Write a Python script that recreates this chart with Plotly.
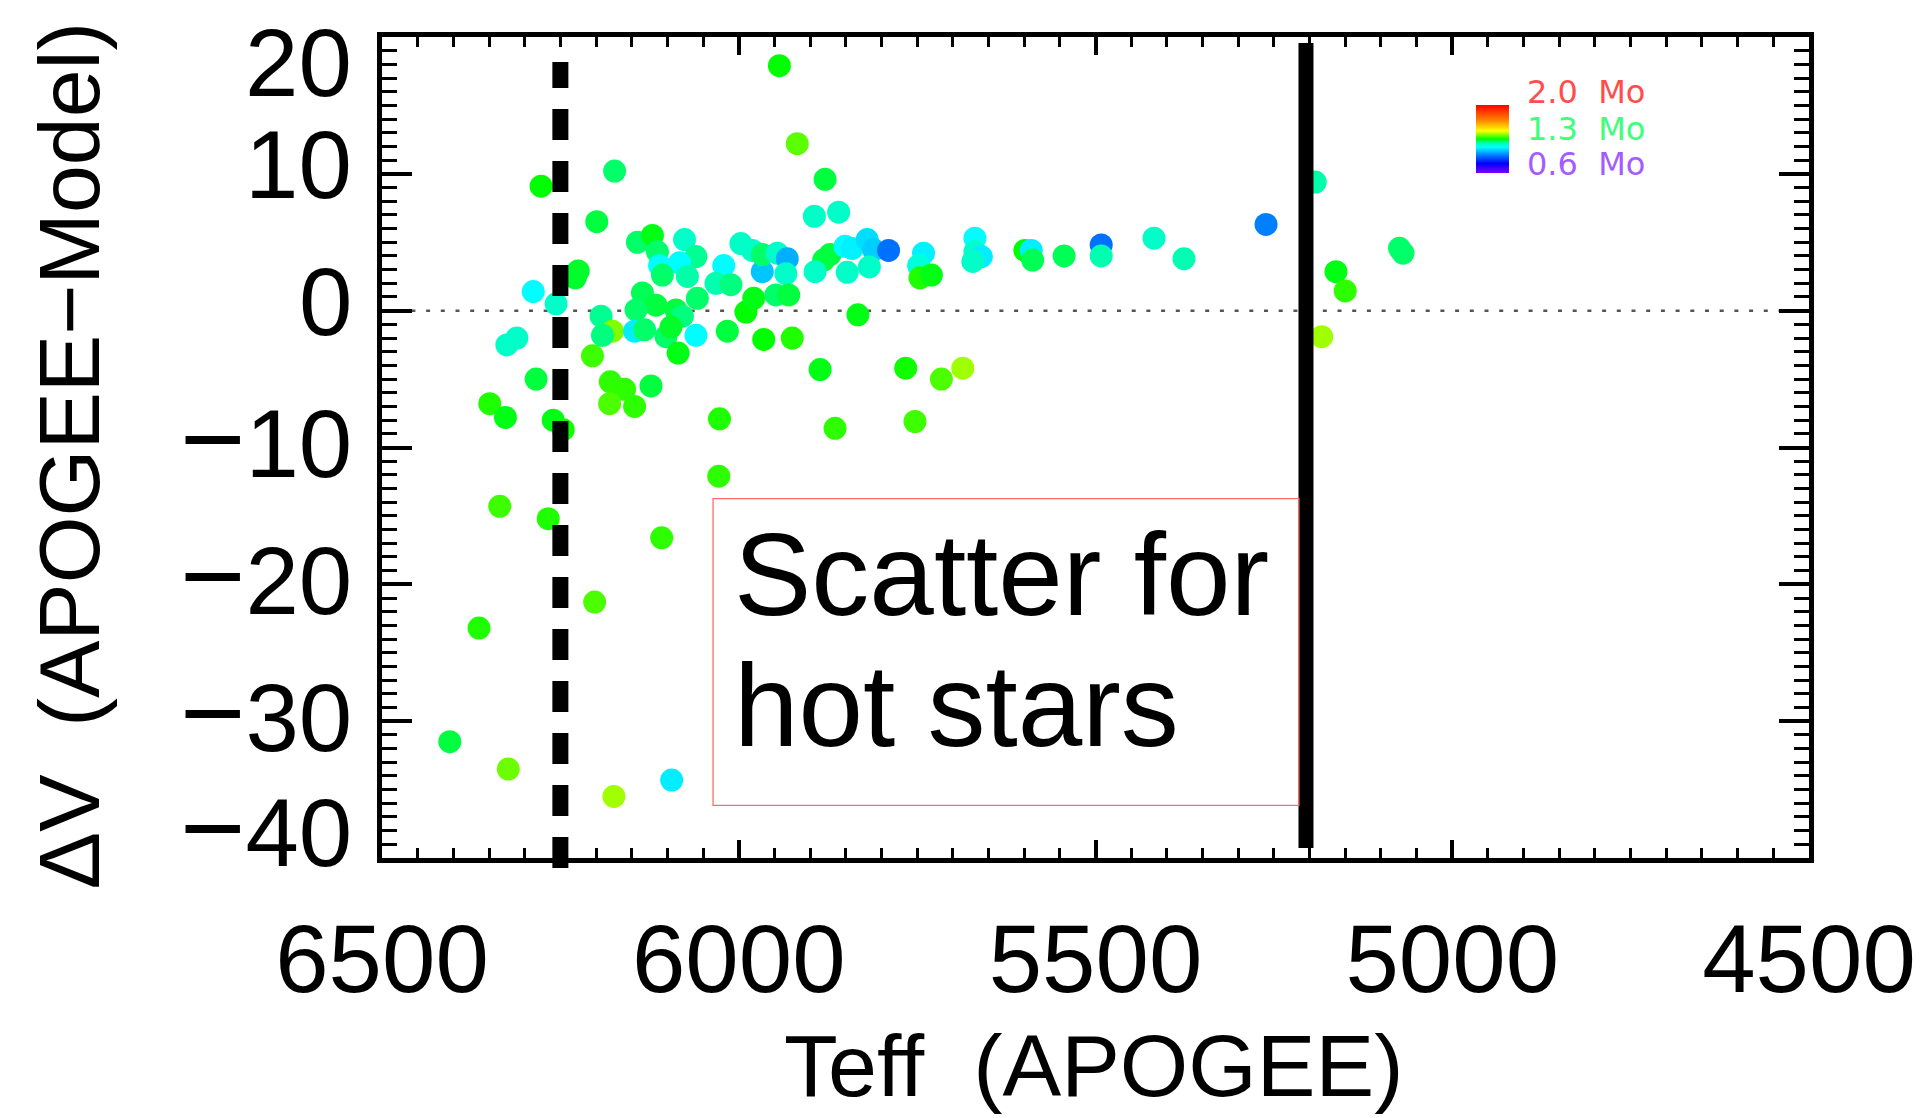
import plotly.graph_objects as go

# ---- data ----
teff = [5943, 5918, 5879, 5894, 5860, 6174, 6277, 6199, 6225, 6229,
        6288, 6256, 6311, 6325, 6284, 6349, 6327, 6260, 6246,
        6142, 6121, 6114, 6076, 6060, 6111, 6083, 6107, 6072, 6021,
        5997, 5981, 6032, 6011, 5967, 5967, 5946, 5932, 5934,
        5881, 5872, 5893, 5851, 5848,
        6135, 6116, 6144, 6193, 6177, 6191, 6146, 6132, 6088, 6079,
        6058, 6102, 6085, 6060, 6095, 6016, 5990, 5979, 5948, 5930,
        5965, 5925, 5886, 6205, 6180, 6160, 6123, 6181, 6146, 6027, 5865,
        5841, 5820, 5811, 5790, 5817, 5833, 5741, 5748, 5746, 5730,
        5669, 5669, 5660, 5672, 5599, 5590, 5588, 5544, 5492, 5492,
        5766, 5716, 5686, 5753,
        5418, 5376, 5261, 5192, 5183, 5163, 5150, 5074, 5069,
        6028, 6335, 6267, 6108, 6202, 6364, 6405, 6323, 6175, 6094]
dv = [17.9, 12.2, 9.6, 6.9, 7.2, 10.2, 9.1, 6.5, 2.9, 2.4,
      1.4, 0.5, -2.0, -2.5, -5.0, -6.8, -7.8, -8.0, -8.7,
      5.0, 5.5, 4.3, 5.2, 3.95, 3.3, 3.5, 2.6, 2.5, 3.3,
      4.9, 4.4, 2.0, 1.9, 2.85, 4.1, 4.2, 3.8, 2.7,
      3.7, 4.1, 2.85, 4.7, 2.8,
      1.3, 0.4, 0.05, -0.4, -1.5, -1.8, -1.5, -1.4, 0.05, -0.4,
      0.9, -1.9, -3.1, -1.8, -1.2, -1.5, -0.1, 0.9, 1.15, 1.15,
      -2.1, -2.0, -4.3, -3.3, -5.2, -5.75, -5.5, -6.8, -7.0, -7.9, -8.6,
      4.55, 5.2, 4.45, 4.4, 3.2, -0.3, 4.2, 3.3, 2.4, 2.6,
      5.3, 4.3, 3.95, 3.6, 4.4, 4.4, 3.7, 4.0, 4.8, 4.0,
      -4.2, -5.0, -4.2, -8.1,
      5.3, 3.8, 6.3, 9.4, -1.9, 2.85, 1.44, 4.56, 4.2,
      -12.1, -14.3, -15.2, -16.6, -21.3, -23.2, -31.5, -33.5, -35.5, -34.3]
mass = [1.30, 1.36, 1.27, 1.19, 1.19, 1.25, 1.30, 1.27, 1.28, 1.28,
        1.13, 1.19, 1.19, 1.19, 1.27, 1.32, 1.29, 1.29, 1.31,
        1.25, 1.29, 1.25, 1.19, 1.23, 1.13, 1.13, 1.25, 1.22, 1.13,
        1.19, 1.19, 1.215, 1.24, 1.06, 1.25, 1.19, 1.03, 1.19,
        1.27, 1.27, 1.19, 1.13, 1.19,
        1.26, 1.27, 1.25, 1.23, 1.384, 1.24, 1.11, 1.25, 1.27, 1.24,
        1.25, 1.25, 1.29, 1.13, 1.28, 1.27, 1.30, 1.29, 1.25, 1.27,
        1.30, 1.32, 1.29, 1.34, 1.33, 1.33, 1.27, 1.35, 1.33, 1.32, 1.33,
        1.115, 1.09, 1.07, 0.95, 1.19, 1.29, 1.115, 1.17, 1.32, 1.29,
        1.13, 1.19, 1.11, 1.19, 1.30, 1.11, 1.26, 1.26, 0.95, 1.215,
        1.31, 1.35, 1.405, 1.34,
        1.19, 1.215, 0.97, 1.22, 1.405, 1.29, 1.33, 1.25, 1.25,
        1.33, 1.34, 1.32, 1.33, 1.35, 1.32, 1.27, 1.37, 1.405, 1.11]

x_tick_vals = [6500, 6000, 5500, 5000, 4500]
y_tick_vals = [20, 10, 0, -10, -20, -30, -40]
MINUS = "<span style='font-size:112px'>\u2212</span>"
y_tick_text = ["20", "10", "0", MINUS + "10", MINUS + "20", MINUS + "30", MINUS + "40"]
y_tick_shift = [-25, 9, 9, 9, 9, 9, 31]

hot_limit = 6250
cool_limit = 5205
mass_labels = ["2.0\u00a0\u00a0Mo", "1.3\u00a0\u00a0Mo", "0.6\u00a0\u00a0Mo"]
mass_label_colors = ["#ff4d4d", "#3dff7a", "#a35cff"]

rainbow = [[0.0, "#7f00ff"], [0.14, "#0000ff"], [0.25, "#0070ff"], [0.33, "#00c8ff"],
           [0.38, "#00ffff"], [0.44, "#00ffb0"], [0.50, "#00ff00"], [0.56, "#80ff00"],
           [0.62, "#ffff00"], [0.78, "#ff8000"], [1.0, "#ff0000"]]

FONT = "Liberation Sans, Arial, sans-serif"

fig = go.Figure()

# dotted zero line
fig.add_trace(go.Scatter(x=[6500, 4500], y=[0, 0], mode="lines",
                         line=dict(color="#555555", width=2.5, dash="4px,10.7px"),
                         hoverinfo="skip", showlegend=False))

fig.add_trace(go.Scatter(
    x=teff, y=dv, mode="markers", showlegend=False,
    marker=dict(size=23, color=mass, cmin=0.6, cmax=2.0, colorscale=rainbow,
                line=dict(width=0),
                colorbar=dict(x=0.7664, xanchor="left", y=0.8758, yanchor="middle",
                              len=68, lenmode="pixels", thickness=33, thicknessmode="pixels",
                              xpad=0, ypad=0, outlinewidth=0, showticklabels=False,
                              ticks="")),
))

fig.add_shape(type="line", xref="x", yref="paper", x0=hot_limit, x1=hot_limit,
              y0=-0.0122, y1=0.9695, line=dict(color="black", width=16, dash="31px,21px"),
              layer="above")
fig.add_shape(type="line", xref="x", yref="paper", x0=cool_limit, x1=cool_limit,
              y0=0.0122, y1=0.9927, line=dict(color="black", width=15), layer="above")
fig.add_shape(type="rect", xref="x", yref="y", x0=6036, x1=5215, y0=-13.73, y1=-36.15,
              line=dict(color="#ff6b6b", width=1.3), layer="above")

annotations = []
for v, t, s in zip(y_tick_vals, y_tick_text, y_tick_shift):
    annotations.append(dict(xref="paper", yref="y", x=-0.0195, y=v, yshift=s,
                            text=t, showarrow=False, xanchor="right", yanchor="middle",
                            font=dict(family=FONT, size=96, color="black")))
annotations.append(dict(xref="paper", yref="paper", x=-0.2191, y=0.4909,
                        text="\u0394V\u00a0\u00a0(APOGEE\u2212Model)", textangle=-90,
                        showarrow=False, xanchor="center", yanchor="middle",
                        font=dict(family=FONT, size=86, color="black")))
annotations.append(dict(xref="paper", yref="paper", x=0.4983, y=-0.2533,
                        text="Teff\u00a0\u00a0(APOGEE)", showarrow=False,
                        xanchor="center", yanchor="middle",
                        font=dict(family=FONT, size=88, color="black")))
annotations.append(dict(xref="x", yref="y", x=6010, y=-19.3, text="Scatter for",
                        showarrow=False, xanchor="left", yanchor="middle",
                        font=dict(family=FONT, size=116, color="black")))
annotations.append(dict(xref="x", yref="y", x=6010, y=-28.88, text="hot stars",
                        showarrow=False, xanchor="left", yanchor="middle",
                        font=dict(family=FONT, size=116, color="black")))
for lab, col, yp in zip(mass_labels, mass_label_colors, [0.9330, 0.8885, 0.8455]):
    annotations.append(dict(xref="paper", yref="paper", x=0.8015, y=yp, text=lab,
                            showarrow=False, xanchor="left", yanchor="middle",
                            borderpad=0,
                            font=dict(family="DejaVu Sans", size=32, color=col)))

fig.update_layout(
    width=1928, height=1118,
    margin=dict(l=382, r=113, t=37, b=260, pad=0),
    paper_bgcolor="white", plot_bgcolor="white",
    annotations=annotations,
    xaxis=dict(range=[6500, 4500], tickvals=x_tick_vals, ticks="inside", ticklen=18,
               tickwidth=4, tickcolor="black", showline=True, linewidth=5, linecolor="black",
               mirror="allticks", showgrid=False, zeroline=False,
               minor=dict(dtick=50, ticklen=10, tickwidth=3, ticks="inside", tickcolor="black",
                          showgrid=False),
               tickfont=dict(family=FONT, size=96, color="black"),
               ticklabelstandoff=14),
    yaxis=dict(range=[-40, 20], dtick=10, ticks="inside", ticklen=30, tickwidth=4,
               tickcolor="black", showline=True, linewidth=5, linecolor="black",
               mirror="allticks", showgrid=False, zeroline=False, showticklabels=False,
               minor=dict(dtick=1, ticklen=15, tickwidth=3, ticks="inside", tickcolor="black",
                          showgrid=False)),
)

fig.write_html("out.html")
